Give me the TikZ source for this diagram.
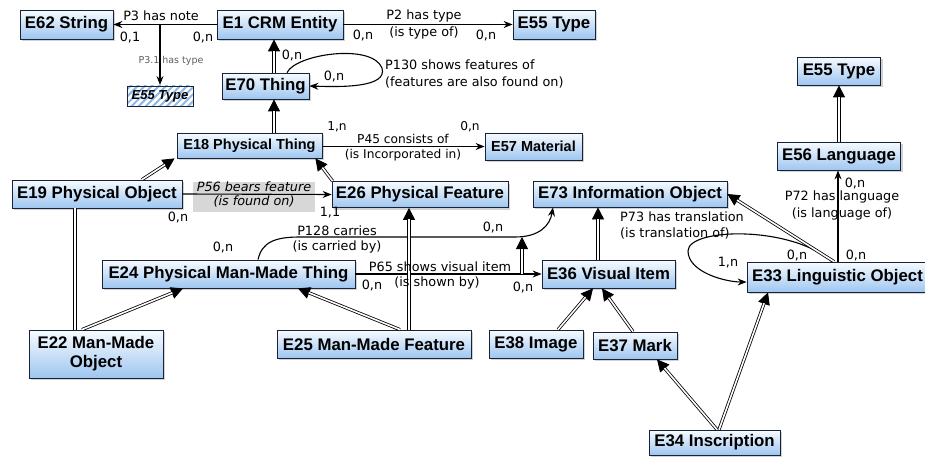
\documentclass[tikz,border=0pt]{standalone}
\usepackage{fontspec}
\setmainfont{Liberation Sans}
\newfontfamily\labfont{DejaVu Sans}
\usetikzlibrary{arrows.meta,shadows,patterns.meta}
\definecolor{boxtop}{RGB}{247,251,255}
\definecolor{boxbot}{RGB}{158,198,240}
\definecolor{boxline}{RGB}{25,35,55}
\definecolor{hatch}{RGB}{140,185,230}
\definecolor{pgray}{RGB}{215,215,215}
\definecolor{subgray}{RGB}{95,95,95}
\newcommand\isarrow[2]{\draw[isatip] #1 -- #2; \draw[isaline] #1 -- #2;}
\begin{document}
\begin{tikzpicture}[x=1pt,y=-1pt,
  cls/.style={draw=boxline, line width=0.8pt, top color=boxtop, bottom color=boxbot,
    drop shadow={shadow xshift=2pt,shadow yshift=-2pt,fill=black!35},
    inner sep=0pt, font=\fontsize{16.8}{19}\selectfont\bfseries, align=center},
  smallcls/.style={cls, font=\fontsize{14.5}{17}\selectfont\bfseries},
  hatchbox/.style={draw=boxline, line width=0.8pt, pattern={Lines[angle=45,distance=5pt,line width=2pt]},
    pattern color=hatch, inner sep=0pt, font=\fontsize{13}{15}\selectfont\bfseries\itshape},
  lab/.style={inner sep=0pt, font=\labfont\fontsize{12.8}{16}\selectfont},
  slab/.style={inner sep=0pt, font=\labfont\fontsize{12.2}{15}\selectfont},
  sublab/.style={inner sep=0pt, text=subgray, font=\labfont\fontsize{9.5}{11}\selectfont},
  ilab/.style={inner sep=0pt, font=\labfont\itshape\fontsize{12.8}{14}\selectfont},
  rel/.style={draw=black, line width=1.1pt, -{Stealth[length=9pt,width=7pt,inset=3pt]}},
  isatip/.style={draw=black, line width=0.8pt, -{Triangle[length=12pt,width=12pt]}},
  isaline/.style={draw=black, double=white, double distance=1.6pt, line width=0.8pt, shorten >=11.5pt},
  isaplain/.style={draw=black, double=white, double distance=1.6pt, line width=0.8pt},
]
\useasboundingbox (0,0) rectangle (925,457);
\fill[white] (0,0) rectangle (925,457);

% classes
\node[cls, minimum width=93pt, minimum height=29pt] (e62) at (66.5,24.5) {E62 String};
\node[cls, minimum width=126pt, minimum height=29pt] (e1) at (280,24.5) {E1 CRM Entity};
\node[cls, minimum width=82pt, minimum height=29pt] (e55a) at (554,24.5) {E55 Type};
\node[hatchbox, minimum width=66pt, minimum height=20pt] (e55h) at (160,96) {E55 Type};
\node[cls, minimum width=87pt, minimum height=26pt] (e70) at (265.5,86) {E70 Thing};
\node[smallcls, minimum width=145pt, minimum height=25pt] (e18) at (249.5,145.5) {E18 Physical Thing};
\node[smallcls, minimum width=97pt, minimum height=27pt] (e57) at (533.5,146.5) {E57 Material};
\node[cls, minimum width=170pt, minimum height=28pt] (e19) at (97,194) {E19 Physical Object};
\node[fill=pgray, inner sep=0pt, minimum width=122pt, minimum height=30pt] (p56bg) at (254,197) {};
\node[cls, minimum width=176pt, minimum height=26pt] (e26) at (420,194.5) {E26 Physical Feature};
\node[cls, minimum width=194pt, minimum height=26pt] (e73) at (630,194) {E73 Information Object};
\node[cls, minimum width=253pt, minimum height=28pt] (e24) at (228.5,274) {E24 Physical Man-Made Thing};
\node[cls, minimum width=133pt, minimum height=28pt] (e36) at (608.5,274) {E36 Visual Item};
\node[cls, minimum width=181pt, minimum height=30pt] (e33) at (837.5,277) {E33 Linguistic Object};
\node[cls, minimum width=123pt, minimum height=28pt] (e56) at (839,156) {E56 Language};
\node[cls, minimum width=83pt, minimum height=28pt] (e55b) at (839,71) {E55 Type};
\node[cls, minimum width=134pt, minimum height=48pt] (e22) at (96,354) {E22 Man-Made\\Object};
\node[cls, minimum width=194pt, minimum height=28pt] (e25) at (374,344) {E25 Man-Made Feature};
\node[cls, minimum width=94pt, minimum height=28pt] (e38) at (536,344) {E38 Image};
\node[cls, minimum width=84pt, minimum height=27pt] (e37) at (635,345.5) {E37 Mark};
\node[cls, minimum width=131pt, minimum height=25pt] (e34) at (714.5,442.5) {E34 Inscription};

% helper coordinates
\coordinate (c75) at (75,0);
\coordinate (c82) at (82,0);
\coordinate (c142) at (142,0);
\coordinate (c183) at (183,0);
\coordinate (c258) at (258,0);
\coordinate (c274) at (274,0);
\coordinate (c287) at (287,0);
\coordinate (c298) at (298,0);
\coordinate (c400) at (400,0);
\coordinate (c409) at (409,0);
\coordinate (c553) at (553,0);
\coordinate (c558) at (558,0);
\coordinate (c593) at (593,0);
\coordinate (c598) at (598,0);
\coordinate (c602) at (602,0);
\coordinate (c633) at (633,0);
\coordinate (c657) at (657,0);
\coordinate (c717) at (717,0);
\coordinate (c719) at (719,0);
\coordinate (c768) at (768,0);
\coordinate (c832) at (832,0);
\coordinate (c834) at (834,0);
\coordinate (c838) at (838,0);
\coordinate (p3a) at (160,24.5);
\coordinate (p65a) at (522,274);
\coordinate (p128a) at (522,237);

% relations
\draw[rel] (e1.west) -- (e62.east);
\draw[rel] (p3a) -- (e55h.north);
\draw[rel] (e1.east) -- (e55a.west);
\draw[rel] (e70.north -| c287) .. controls (296,54) and (372,43) .. (382,68) .. controls (388,88) and (340,87) .. (e70.east);
\draw[rel] (e18.east |- e57.west) -- (e57.west);
\draw[rel] (e19.east) -- (e26.west);
\draw[rel] (e24.north -| c258) .. controls (262,242) and (275,237) .. (300,237) -- (515,237) .. controls (540,237) and (550,225) .. (e73.south -| c553);
\draw[rel] (e24.east) -- (e36.west);
\draw[rel] (e33.north -| c838) -- (e56.south -| c838);
\draw[rel] (e33.north -| c832) .. controls (790,225) and (688,228) .. (688,251) .. controls (688,272) and (725,282) .. ([yshift=-5pt]e33.west);

% isA
\isarrow{(e70.north -| c274)}{(e1.south -| c274)}
\isarrow{(e18.north -| c274)}{(e70.south -| c274)}
\isarrow{(e19.north -| c142)}{([xshift=-2pt]e18.south west)}
\isarrow{([xshift=1pt]e26.north west)}{([xshift=-7pt]e18.south east)}
\draw[isaplain] (e22.north -| c75) -- (e19.south -| c75);
\isarrow{(e22.north -| c82)}{(e24.south -| c183)}
\isarrow{(e25.north -| c400)}{(e24.south -| c298)}
\isarrow{(e25.north -| c409)}{(e26.south -| c409)}
\isarrow{(p65a)}{(p128a)}
\isarrow{(e36.north -| c598)}{(e73.south -| c598)}
\isarrow{(e38.north -| c558)}{(e36.south -| c593)}
\isarrow{(e37.north -| c633)}{(e36.south -| c602)}
\isarrow{(e34.north -| c717)}{(e37.south -| c657)}
\isarrow{(e34.north -| c719)}{(e33.south -| c768)}
\isarrow{(e33.north -| c834)}{(e73.east)}
\isarrow{(e56.north)}{(e55b.south)}

% labels
\node[lab] (l1) at (161,16) {P3 has note};
\node[lab] (l2) at (130,37) {0,1};
\node[lab] (l3) at (203,37) {0,n};
\node[sublab] (l4) at (171,61) {P3.1 has type};
\node[lab] (l5) at (424,16) {P2 has type};
\node[lab] (l6) at (424,33) {(is type of)};
\node[lab] (l7) at (363,35) {0,n};
\node[lab] (l8) at (486,35) {0,n};
\node[lab] (l9) at (292,55) {0,n};
\node[lab] (l10) at (334,76) {0,n};
\node[lab, anchor=west, align=left, font=\labfont\fontsize{12.8}{17}\selectfont] (l11) at (385,73.5) {P130 shows features of\\(features are also found on)};
\node[slab] (l12) at (337,127) {1,n};
\node[slab] (l13) at (470,127) {0,n};
\node[slab] (l14) at (403,139) {P45 consists of};
\node[slab] (l15) at (403,155) {(is Incorporated in)};
\node[ilab] (l16) at (254,187) {P56 bears feature};
\node[ilab] (l17) at (254,201) {(is found on)};
\node[lab] (l18) at (178,217) {0,n};
\node[lab] (l19) at (330,213) {1,1};
\node[lab] (l20) at (223,247) {0,n};
\node[lab] (l21) at (337,231) {P128 carries};
\node[lab] (l22) at (337,247) {(is carried by)};
\node[lab] (l23) at (493,227) {0,n};
\node[lab] (l24) at (440,267) {P65 shows visual item};
\node[lab] (l25) at (437,283) {(is shown by)};
\node[lab] (l26) at (372,285) {0,n};
\node[lab] (l27) at (523,287) {0,n};
\node[lab, anchor=west, align=left] (l28) at (620,225) {P73 has translation\\(is translation of)};
\node[lab] (l29) at (728,263) {1,n};
\node[lab] (l30) at (797,255) {0,n};
\node[lab] (l31) at (856,255) {0,n};
\node[lab] (l32) at (842,197) {P72 has language};
\node[lab] (l33) at (842,214) {(is language of)};
\node[lab] (l34) at (855,183) {0,n};
\end{tikzpicture}
\end{document}
